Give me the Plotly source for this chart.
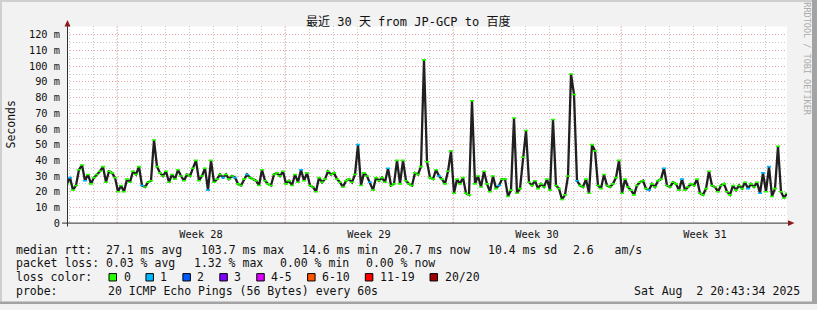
import plotly.graph_objects as go

# ------------------------------------------------------------------ data
# sample times in hours since the left edge of the graph (30 days = 720 h)
hours = list(range(0, 721, 3))

# median RTT in milliseconds
median_ms = [
    # t 0 .. 180
    25, 29, 21, 24, 34, 37, 27, 31, 25, 29,
    31, 33, 36, 26, 33, 32, 29, 20, 24, 20,
    28, 26, 33, 31, 36, 24, 23, 26, 27, 53,
    36, 32, 30, 33, 26, 31, 28, 34, 30, 27,
    31, 30, 35, 40, 27, 30, 35, 21, 40, 26,
    28, 31, 29, 31, 28, 30, 29, 25, 24, 28,
    31,
    # t 183 .. 360
    29, 28, 27, 24, 34, 27, 25, 24, 31, 32,
    30, 33, 25, 27, 24, 31, 26, 34, 27, 32,
    24, 23, 20, 29, 26, 28, 33, 31, 32, 28,
    26, 23, 27, 28, 26, 31, 50, 24, 32, 30,
    26, 21, 29, 27, 29, 26, 35, 24, 25, 40,
    25, 40, 27, 25, 24, 32, 31, 36, 104, 39,
    # t 363 .. 543
    29, 28, 34, 30, 28, 25, 33, 46, 19, 28,
    25, 29, 19, 18, 78, 25, 30, 23, 33, 25,
    20, 30, 22, 24, 28, 28, 17, 21, 67, 19,
    22, 42, 59, 26, 24, 27, 22, 25, 23, 28,
    21, 66, 24, 22, 15, 18, 30, 95, 82, 27,
    24, 23, 28, 19, 50, 46, 24, 22, 31, 24,
    23,
    # t 546 .. 720
    25, 29, 40, 19, 28, 23, 21, 18, 24, 26,
    27, 22, 21, 25, 23, 27, 28, 35, 24, 23,
    26, 25, 21, 28, 21, 23, 25, 24, 28, 19,
    18, 22, 33, 24, 23, 20, 24, 25, 20, 18,
    24, 21, 24, 22, 26, 22, 25, 23, 26, 19,
    32, 20, 36, 17, 22, 49, 20, 16, 19,
]

# sample times where 1 of 20 pings was lost (light-blue median)
loss1_hours = [3, 18, 75, 141, 156, 168, 180, 234, 291, 303, 321, 372,
               432, 510, 582, 597, 615, 681, 693, 696, 702]

week_start_hours = [50, 218, 386, 554]
week_labels = ["Week 28", "Week 29", "Week 30", "Week 31"]

y_tick_vals = [0, 10, 20, 30, 40, 50, 60, 70, 80, 90, 100, 110, 120]
y_tick_text = ["0", "10 m", "20 m", "30 m", "40 m", "50 m", "60 m", "70 m",
               "80 m", "90 m", "100 m", "110 m", "120 m"]

title_text = "最近 30 天 from JP-GCP to 百度"
y_title = "Seconds"
watermark = "RRDTOOL / TOBI OETIKER"

rtt_items = ["median rtt:  27.1 ms avg", "103.7 ms max", "14.6 ms min",
             "20.7 ms now", "10.4 ms sd", "2.6   am/s"]
loss_items = ["packet loss: 0.03 % avg", "1.32 % max", "0.00 % min", "0.00 % now"]
loss_title = "loss color:"
loss_labels = ["0", "1", "2", "3", "4-5", "6-10", "11-19", "20/20"]
loss_colors = ["#26ff00", "#00b8ff", "#0059ff", "#7e00ff",
               "#dd00ff", "#ff5500", "#ff0000", "#a10000"]
probe_title = "probe:"
probe_text = "20 ICMP Echo Pings (56 Bytes) every 60s"
date_text = "Sat Aug  2 20:43:34 2025"

# ------------------------------------------------------------------ layout helpers
W, H = 817, 310
PL, PR, PT, PB = 67, 787, 27, 227.5
PX_PER_MS = 1.6
Y_MAX = (PB - PT) / PX_PER_MS


def px(x):
    return x / W


def py(y):
    return 1 - y / H


MONO = "DejaVu Sans Mono"
BG = "#f2f2f2"
GRID = "#c9c9c9"
MGRID = "#e8a6a6"
AXIS = "#303030"
ARROW = "#8b1a1a"
TXT = "#111111"
DOT = "1px,2px"


def nb(s):
    return s.replace(" ", "\u00a0")


fig = go.Figure()

# black median line
fig.add_trace(go.Scatter(
    x=hours, y=median_ms, mode="lines",
    line=dict(color="#202020", width=2.3),
    hoverinfo="skip", showlegend=False))

# loss-coloured median marks (loss 0 = green)
loss1_set = set(loss1_hours)
g_x = [t for t in hours if t not in loss1_set]
g_y = [v for t, v in zip(hours, median_ms) if t not in loss1_set]
fig.add_trace(go.Scatter(
    x=g_x, y=g_y, mode="markers",
    marker=dict(symbol="line-ew", size=3, line=dict(width=1.6, color=loss_colors[0])),
    hoverinfo="skip", showlegend=False))

b_y = [median_ms[hours.index(t)] for t in loss1_hours]
fig.add_trace(go.Scatter(
    x=loss1_hours, y=b_y, mode="markers",
    marker=dict(symbol="line-ew", size=3, line=dict(width=1.6, color=loss_colors[1])),
    hoverinfo="skip", showlegend=False))

shapes = []
# weekly (major) vertical grid lines
for s in week_start_hours:
    shapes.append(dict(type="line", xref="x", yref="paper", x0=s, x1=s,
                       y0=py(PB), y1=py(PT), layer="between",
                       line=dict(color=MGRID, width=1, dash=DOT)))

# axes
shapes.append(dict(type="line", xref="paper", yref="paper",
                   x0=px(67.5), x1=px(67.5), y0=py(231), y1=py(24),
                   line=dict(color=AXIS, width=1), layer="above"))
shapes.append(dict(type="line", xref="paper", yref="paper",
                   x0=px(62), x1=px(790), y0=py(227.5), y1=py(227.5),
                   line=dict(color=AXIS, width=1), layer="above"))
# arrows
shapes.append(dict(type="path", xref="paper", yref="paper", layer="above",
                   path=f"M {px(64.5)} {py(27)} L {px(67.5)} {py(20.5)} L {px(70.5)} {py(27)} Z",
                   fillcolor=ARROW, line=dict(width=0)))
shapes.append(dict(type="path", xref="paper", yref="paper", layer="above",
                   path=f"M {px(788)} {py(224.5)} L {px(794.5)} {py(227.5)} L {px(788)} {py(230.5)} Z",
                   fillcolor=ARROW, line=dict(width=0)))

# 3D-ish border
shapes.append(dict(type="rect", xref="paper", yref="paper", x0=0, x1=1,
                   y0=py(2), y1=1, fillcolor="#cfcfcf", line=dict(width=0), layer="below"))
shapes.append(dict(type="rect", xref="paper", yref="paper", x0=0, x1=px(2),
                   y0=0, y1=1, fillcolor="#cfcfcf", line=dict(width=0), layer="below"))
shapes.append(dict(type="rect", xref="paper", yref="paper", x0=px(812), x1=1,
                   y0=0, y1=1, fillcolor="#a3a3a3", line=dict(width=0), layer="below"))
shapes.append(dict(type="rect", xref="paper", yref="paper", x0=0, x1=1,
                   y0=0, y1=py(307.5), fillcolor="#a3a3a3", line=dict(width=0), layer="below"))

annotations = []


def text(s, x, y, size=11.5, anchor="left", color=TXT, angle=0, yanchor="middle"):
    annotations.append(dict(text=nb(s), x=px(x), y=py(y), xref="paper", yref="paper",
                            xanchor=anchor, yanchor=yanchor, showarrow=False,
                            borderpad=0, textangle=angle,
                            font=dict(family=MONO + ", Noto Sans CJK SC", size=size, color=color)))


text(title_text, 408, 21.5, size=12, anchor="center")
text(y_title, 11, 127, size=11.5, anchor="center", angle=-90)
text(watermark, 807.5, 60, size=8.5, anchor="center", color="#ababab", angle=90)

CW = 6.94
rtt_x = [15, 199.5, 300.5, 392.5, 486.5, 571.5]
for s, x in zip(rtt_items, rtt_x):
    text(s, x, 254.5)
loss_x = [15, 192.5, 278.5, 365]
for s, x in zip(loss_items, loss_x):
    text(s, x, 268.5)
text(loss_title, 15, 282.5)
sx = 109
for lab, col in zip(loss_labels, loss_colors):
    shapes.append(dict(type="rect", xref="paper", yref="paper",
                       x0=px(sx), x1=px(sx + 7.5), y0=py(286.5), y1=py(279),
                       fillcolor=col, line=dict(color="#000000", width=1), layer="above"))
    text(lab, sx + 13.5, 282.5)
    sx = sx + 14 + len(lab) * CW + 16
text(probe_title, 15, 296.5)
text(probe_text, 106.5, 296.5)
text(date_text, 801, 296.5, anchor="right")

fig.update_layout(
    width=W, height=H, margin=dict(l=0, r=0, t=0, b=0),
    paper_bgcolor=BG, plot_bgcolor="#ffffff", showlegend=False,
    shapes=shapes, annotations=annotations,
    xaxis=dict(domain=[px(PL), px(PR)], range=[0, 720],
               tickmode="array", tickvals=[s + 84 for s in week_start_hours],
               ticktext=week_labels, showgrid=False, zeroline=False, showline=False,
               ticks="outside", ticklen=2, tickcolor="rgba(0,0,0,0)",
               tickfont=dict(family=MONO, size=10.3, color=TXT),
               minor=dict(tickmode="linear", tick0=2, dtick=24, showgrid=True,
                          gridcolor=GRID, griddash=DOT, gridwidth=1, ticks="")),
    yaxis=dict(domain=[py(PB), py(PT)], range=[0, Y_MAX],
               tickmode="array", tickvals=y_tick_vals, ticktext=y_tick_text,
               showgrid=True, gridcolor=MGRID, griddash=DOT, gridwidth=1,
               zeroline=False, showline=False,
               ticks="outside", ticklen=4, tickcolor="rgba(0,0,0,0)",
               tickfont=dict(family=MONO, size=10.3, color=TXT),
               minor=dict(tickmode="linear", tick0=0, dtick=5, showgrid=True,
                          gridcolor=GRID, griddash=DOT, gridwidth=1, ticks="")),
)

fig.write_html("out.html")
